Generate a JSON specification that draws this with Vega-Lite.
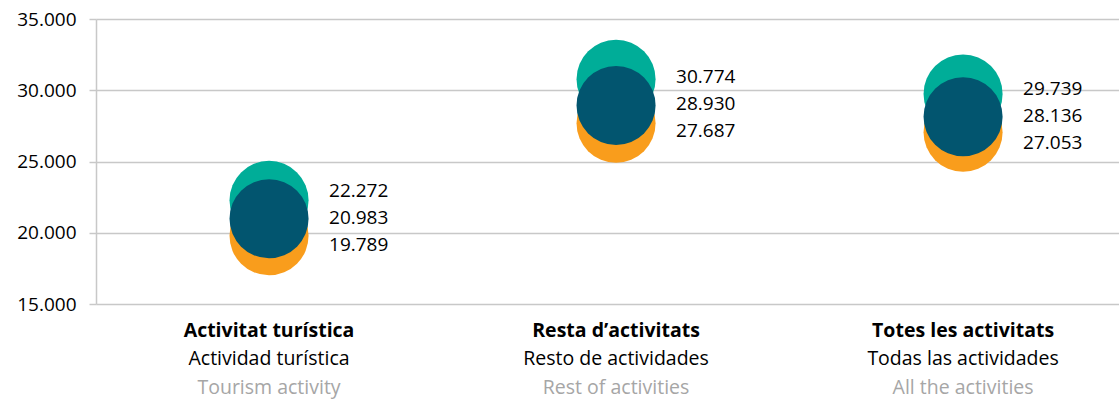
{
  "$schema": "https://vega.github.io/schema/vega-lite/v6.json",
  "width": 1023,
  "height": 285,
  "autosize": {"type": "none"},
  "padding": {"left": 96, "top": 19, "right": 0, "bottom": 97},
  "config": {
    "view": {"stroke": null},
    "font": "Open Sans",
    "locale": {"number": {"decimal": ",", "thousands": ".", "grouping": [3], "currency": ["", " €"]}}
  },
  "datasets": {
    "points": [
      {"cat": "Activitat turística", "series": "serie3", "value": 19789},
      {"cat": "Resta d’activitats", "series": "serie3", "value": 27687},
      {"cat": "Totes les activitats", "series": "serie3", "value": 27053},
      {"cat": "Activitat turística", "series": "serie1", "value": 22272},
      {"cat": "Resta d’activitats", "series": "serie1", "value": 30774},
      {"cat": "Totes les activitats", "series": "serie1", "value": 29739},
      {"cat": "Activitat turística", "series": "serie2", "value": 20983},
      {"cat": "Resta d’activitats", "series": "serie2", "value": 28930},
      {"cat": "Totes les activitats", "series": "serie2", "value": 28136}
    ],
    "cats": [
      {"cat": "Activitat turística", "es": "Actividad turística", "en": "Tourism activity"},
      {"cat": "Resta d’activitats", "es": "Resto de actividades", "en": "Rest of activities"},
      {"cat": "Totes les activitats", "es": "Todas las actividades", "en": "All the activities"}
    ]
  },
  "encoding": {
    "x": {
      "field": "cat",
      "type": "nominal",
      "sort": null,
      "scale": {"type": "point", "domain": ["Activitat turística", "Resta d’activitats", "Totes les activitats"], "padding": 0.474, "align": 0.526},
      "axis": null
    }
  },
  "layer": [
    {
      "data": {"name": "points"},
      "mark": {"type": "circle", "size": 6250, "opacity": 1},
      "encoding": {
        "y": {
          "field": "value",
          "type": "quantitative",
          "scale": {"domain": [15000, 35000], "nice": false, "zero": false},
          "axis": {
            "values": [15000, 20000, 25000, 30000, 35000],
            "format": ",.0f",
            "title": null,
            "labelFontSize": 19,
            "labelColor": "#000000",
            "labelPadding": 13,
            "tickSize": 7,
            "tickColor": "#C8C8C8",
            "tickWidth": 1.5,
            "domainColor": "#C8C8C8",
            "domainWidth": 1.5,
            "gridColor": "#C8C8C8",
            "gridWidth": 1.5
          }
        },
        "color": {
          "field": "series",
          "type": "nominal",
          "scale": {"domain": ["serie1", "serie2", "serie3"], "range": ["#00AD98", "#02556F", "#F99D1C"]},
          "legend": null
        }
      }
    },
    {
      "data": {"name": "points"},
      "transform": [
        {"joinaggregate": [{"op": "median", "field": "value", "as": "mid"}], "groupby": ["cat"]},
        {"filter": "datum.series === 'serie1'"}
      ],
      "mark": {"type": "text", "align": "left", "baseline": "middle", "dx": 60, "dy": -28, "fontSize": 19, "color": "#000000"},
      "encoding": {
        "y": {"field": "mid", "type": "quantitative"},
        "text": {"field": "value", "type": "quantitative", "format": ",.0f"}
      }
    },
    {
      "data": {"name": "points"},
      "transform": [
        {"joinaggregate": [{"op": "median", "field": "value", "as": "mid"}], "groupby": ["cat"]},
        {"filter": "datum.series === 'serie2'"}
      ],
      "mark": {"type": "text", "align": "left", "baseline": "middle", "dx": 60, "dy": -1, "fontSize": 19, "color": "#000000"},
      "encoding": {
        "y": {"field": "mid", "type": "quantitative"},
        "text": {"field": "value", "type": "quantitative", "format": ",.0f"}
      }
    },
    {
      "data": {"name": "points"},
      "transform": [
        {"joinaggregate": [{"op": "median", "field": "value", "as": "mid"}], "groupby": ["cat"]},
        {"filter": "datum.series === 'serie3'"}
      ],
      "mark": {"type": "text", "align": "left", "baseline": "middle", "dx": 60, "dy": 26, "fontSize": 19, "color": "#000000"},
      "encoding": {
        "y": {"field": "mid", "type": "quantitative"},
        "text": {"field": "value", "type": "quantitative", "format": ",.0f"}
      }
    },
    {
      "data": {"name": "cats"},
      "mark": {"type": "text", "align": "center", "baseline": "middle", "fontSize": 19.5, "fontWeight": "bold", "color": "#000000"},
      "encoding": {
        "y": {"datum": 13104},
        "text": {"field": "cat"}
      }
    },
    {
      "data": {"name": "cats"},
      "mark": {"type": "text", "align": "center", "baseline": "middle", "fontSize": 19.5, "color": "#000000"},
      "encoding": {
        "y": {"datum": 11138},
        "text": {"field": "es"}
      }
    },
    {
      "data": {"name": "cats"},
      "mark": {"type": "text", "align": "center", "baseline": "middle", "fontSize": 19.5, "color": "#A6A6A6"},
      "encoding": {
        "y": {"datum": 9101},
        "text": {"field": "en"}
      }
    }
  ]
}
